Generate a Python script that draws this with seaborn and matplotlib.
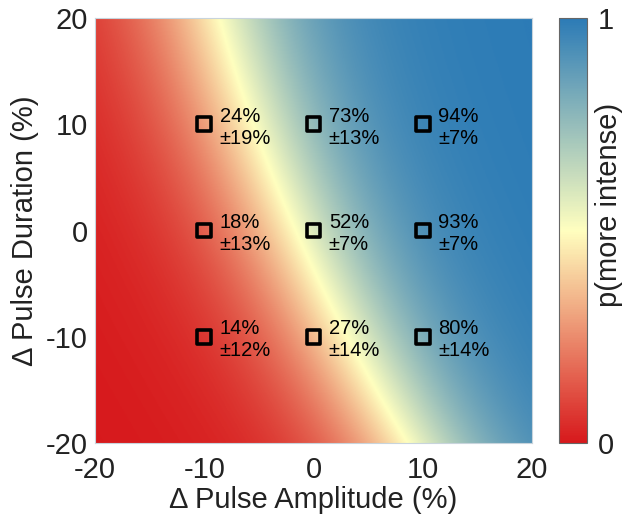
import numpy as np
import pandas as pd
import seaborn as sns
import matplotlib.pyplot as plt
from matplotlib.colors import LinearSegmentedColormap

# -----------------------------
# Data
# -----------------------------
amplitudes = [-10, 0, 10, -10, 0, 10, -10, 0, 10]
durations = [10, 10, 10, 0, 0, 0, -10, -10, -10]
mean_pct = [24, 73, 94, 18, 52, 93, 14, 27, 80]
sd_pct = [19, 13, 7, 13, 7, 7, 12, 14, 14]

axis_ticks = [-20, -10, 0, 10, 20]
cbar_ticks = [0, 1]

# fitted surface:
# 50% line a0(d) = c0 + c1*d + c2*d^2, logistic width in % amplitude
thresh_coef = [-1.7, -0.43, 0.0041]
slope_width = 5.0

# -----------------------------
# Style
# -----------------------------
sns.set_style("white")
plt.rcParams["font.family"] = ["Liberation Sans", "DejaVu Sans"]
plt.rcParams["text.color"] = "black"

cmap = LinearSegmentedColormap.from_list("rdylbu3", ["#d7191c", "#ffffbf", "#2c7bb6"])

pts = pd.DataFrame({"amp": amplitudes, "dur": durations,
                    "mean": mean_pct, "sd": sd_pct})

# surface grid
grid_a = np.linspace(-20, 20, 401)
grid_d = np.linspace(-20, 20, 401)
A, D = np.meshgrid(grid_a, grid_d)
a0 = thresh_coef[0] + thresh_coef[1] * D + thresh_coef[2] * D ** 2
P = 1.0 / (1.0 + np.exp(-(A - a0) / slope_width))

fig = plt.figure(figsize=(6.27, 5.22), dpi=100)
ax = fig.add_axes([0.1515, 0.1513, 0.697, 0.8142])
cax = fig.add_axes([0.8915, 0.1513, 0.0445, 0.8142])

im = ax.imshow(P, extent=[-20, 20, -20, 20], origin="lower", cmap=cmap,
               vmin=0, vmax=1, aspect="auto", interpolation="bilinear")

sns.scatterplot(data=pts, x="amp", y="dur", marker="s", s=95,
                facecolor="none", edgecolor="black", linewidth=2.6,
                ax=ax, legend=False, zorder=3)

for _, r in pts.iterrows():
    ax.annotate(f"{r['mean']}%\n\u00b1{r['sd']}%", (r["amp"], r["dur"]),
                xytext=(11, -2), textcoords="offset points",
                ha="left", va="center", fontsize=14.5, linespacing=1.2,
                color="black")

ax.set_xlim(-20, 20)
ax.set_ylim(-20, 20)
ax.set_xticks(axis_ticks)
ax.set_yticks(axis_ticks)
ax.set_xticklabels([str(t) for t in axis_ticks])
ax.set_yticklabels([str(t) for t in axis_ticks])
ax.tick_params(length=0, labelsize=21, pad=5, labelcolor="#222222")
ax.tick_params(axis="x", pad=9)
ax.set_xlabel("\u0394 Pulse Amplitude (%)", fontsize=21, labelpad=2, color="#222222")
ax.set_ylabel("\u0394 Pulse Duration (%)", fontsize=21, labelpad=5, color="#222222")
for sp in ax.spines.values():
    sp.set_color("#c8d4dc")
    sp.set_linewidth(0.8)

cb = fig.colorbar(im, cax=cax)
cb.set_ticks(cbar_ticks)
cb.set_ticklabels([str(t) for t in cbar_ticks])
cb.ax.tick_params(labelsize=21, length=0, pad=8, labelcolor="#222222")
cb.ax.set_yticks([0.2, 0.4, 0.6, 0.8], minor=True)
cb.ax.tick_params(which="minor", direction="in", length=3, color="#555555", width=0.8)
cb.outline.set_edgecolor("#666666")
cb.outline.set_linewidth(0.8)
cb.set_label("p(more intense)", fontsize=21, color="#222222")
cb.ax.yaxis.label.set_va("center")
cb.ax.yaxis.set_label_coords(1.8, 0.56)

fig.savefig("out.png", dpi=100)
